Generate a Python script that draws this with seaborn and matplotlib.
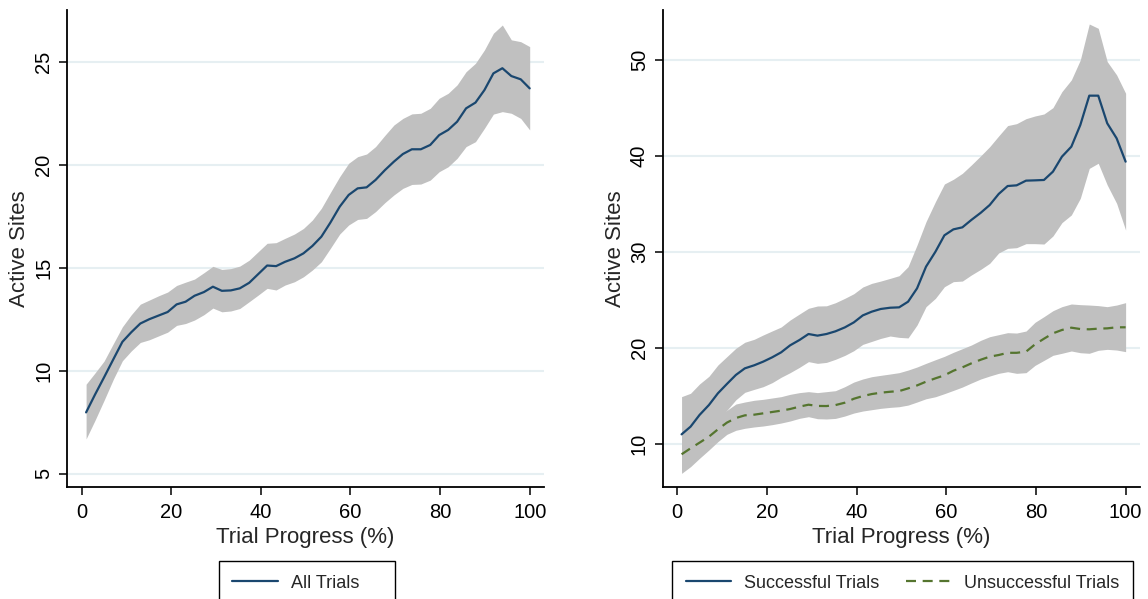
import numpy as np
import pandas as pd
import matplotlib
matplotlib.use("Agg")
import matplotlib.pyplot as plt
import seaborn as sns

# ---------------- data ----------------
progress = [1.0, 3.0, 5.0, 7.1, 9.1, 11.1, 13.1, 15.1, 17.2, 19.2,
            21.2, 23.2, 25.2, 27.3, 29.3, 31.3, 33.3, 35.3, 37.4, 39.4,
            41.4, 43.4, 45.4, 47.5, 49.5, 51.5, 53.5, 55.5, 57.6, 59.6,
            61.6, 63.6, 65.6, 67.7, 69.7, 71.7, 73.7, 75.7, 77.8, 79.8,
            81.8, 83.8, 85.8, 87.9, 89.9, 91.9, 93.9, 95.9, 98.0, 100.0]

all_mean = [7.98, 8.85, 9.68, 10.57, 11.41, 11.88, 12.30, 12.51, 12.69, 12.86,
            13.23, 13.36, 13.65, 13.83, 14.09, 13.89, 13.91, 14.01, 14.28, 14.70,
            15.12, 15.09, 15.30, 15.47, 15.71, 16.07, 16.52, 17.20, 17.98, 18.55,
            18.87, 18.92, 19.28, 19.76, 20.17, 20.54, 20.77, 20.77, 20.98, 21.46,
            21.71, 22.11, 22.76, 23.04, 23.65, 24.46, 24.71, 24.33, 24.17, 23.73]
all_upper = [9.35, 9.90, 10.47, 11.33, 12.14, 12.73, 13.24, 13.44, 13.65, 13.83,
             14.15, 14.31, 14.46, 14.77, 15.08, 14.93, 14.97, 15.09, 15.38, 15.79,
             16.20, 16.23, 16.44, 16.65, 16.92, 17.33, 17.90, 18.66, 19.44, 20.09,
             20.41, 20.54, 20.90, 21.45, 21.95, 22.27, 22.49, 22.52, 22.76, 23.25,
             23.49, 23.90, 24.54, 24.95, 25.60, 26.41, 26.81, 26.09, 26.00, 25.76]
all_lower = [6.69, 7.60, 8.56, 9.60, 10.49, 10.97, 11.38, 11.51, 11.70, 11.88,
             12.21, 12.30, 12.47, 12.73, 13.05, 12.87, 12.91, 13.03, 13.36, 13.68,
             14.01, 13.93, 14.17, 14.33, 14.57, 14.90, 15.30, 15.95, 16.65, 17.09,
             17.36, 17.41, 17.74, 18.18, 18.55, 18.87, 19.06, 19.08, 19.27, 19.68,
             19.92, 20.33, 20.90, 21.14, 21.79, 22.48, 22.60, 22.52, 22.27, 21.71]

succ_mean = [11.00, 11.80, 13.02, 14.06, 15.28, 16.25, 17.19, 17.88, 18.20, 18.58,
             19.03, 19.55, 20.28, 20.84, 21.46, 21.29, 21.46, 21.74, 22.15, 22.67,
             23.40, 23.79, 24.07, 24.20, 24.24, 24.83, 26.22, 28.48, 30.04, 31.75,
             32.37, 32.58, 33.35, 34.10, 34.91, 36.06, 36.89, 36.96, 37.45, 37.48,
             37.52, 38.39, 39.95, 40.99, 43.25, 46.31, 46.31, 43.43, 41.86, 39.43]
succ_upper = [14.93, 15.28, 16.25, 17.05, 18.23, 19.10, 19.97, 20.60, 20.91, 21.36,
              21.78, 22.19, 22.92, 23.55, 24.14, 24.38, 24.40, 24.72, 25.18, 25.66,
              26.36, 26.74, 26.98, 27.26, 27.54, 28.48, 30.74, 33.17, 35.26, 37.10,
              37.59, 38.21, 39.08, 40.04, 40.99, 42.11, 43.19, 43.39, 43.91, 44.19,
              44.40, 45.06, 46.73, 47.95, 50.03, 53.78, 53.33, 49.86, 48.47, 46.56]
succ_lower = [7.10, 8.30, 9.80, 11.07, 12.30, 13.50, 14.60, 15.38, 15.69, 15.97,
              16.39, 16.95, 17.43, 17.99, 18.58, 18.40, 18.50, 18.82, 19.23, 19.72,
              20.38, 20.69, 21.00, 21.25, 21.11, 21.05, 22.40, 24.31, 25.18, 26.39,
              26.92, 26.98, 27.61, 28.20, 28.83, 29.91, 30.39, 30.46, 30.88, 30.88,
              30.84, 31.68, 33.07, 33.87, 35.61, 38.73, 39.26, 37.00, 35.08, 32.30]

unsucc_mean = [8.92, 9.54, 10.13, 10.76, 11.52, 12.22, 12.70, 12.98, 13.05, 13.19,
               13.33, 13.47, 13.64, 13.89, 14.09, 13.96, 13.95, 14.05, 14.30, 14.71,
               14.99, 15.20, 15.34, 15.44, 15.51, 15.79, 16.10, 16.49, 16.84, 17.15,
               17.63, 17.98, 18.40, 18.78, 19.10, 19.27, 19.50, 19.50, 19.62, 20.38,
               20.97, 21.53, 21.88, 22.12, 21.98, 21.95, 22.02, 22.05, 22.16, 22.16]
unsucc_upper = [10.90, 11.45, 11.76, 12.15, 12.80, 13.50, 14.16, 14.37, 14.55, 14.65,
                14.79, 14.93, 15.17, 15.35, 15.45, 15.35, 15.45, 15.55, 15.97, 16.45,
                16.77, 17.01, 17.15, 17.29, 17.43, 17.70, 18.02, 18.40, 18.78, 19.13,
                19.55, 19.93, 20.31, 20.80, 21.18, 21.39, 21.60, 21.56, 21.77, 22.68,
                23.27, 23.89, 24.31, 24.59, 24.52, 24.48, 24.42, 24.31, 24.48, 24.73]
unsucc_lower = [6.93, 7.63, 8.50, 9.37, 10.24, 11.00, 11.42, 11.63, 11.77, 11.87,
                12.01, 12.18, 12.39, 12.67, 12.84, 12.63, 12.60, 12.66, 12.91, 13.22,
                13.43, 13.57, 13.71, 13.81, 13.88, 14.05, 14.37, 14.71, 14.92, 15.24,
                15.58, 15.93, 16.35, 16.77, 17.08, 17.36, 17.53, 17.36, 17.43, 18.19,
                18.71, 19.24, 19.45, 19.69, 19.51, 19.45, 19.76, 19.86, 19.79, 19.62]

left_yticks = [5, 10, 15, 20, 25]
right_yticks = [10, 20, 30, 40, 50]
xticks = [0, 20, 40, 60, 80, 100]
x_label = "Trial Progress (%)"
y_label = "Active Sites"
label_all = "All Trials"
label_succ = "Successful Trials"
label_unsucc = "Unsuccessful Trials"

# ---------------- style ----------------
sns.set_style("white")
plt.rcParams['font.family'] = ['Liberation Sans', 'DejaVu Sans']

NAVY = "#1a476f"
GREEN = "#55752f"
BAND = "#c0c0c0"
GRID = "#e6eff2"

fig = plt.figure(figsize=(11.48, 5.99), dpi=100)
ax1 = fig.add_axes([0.0586, 0.1865, 0.4153, 0.7968])
ax2 = fig.add_axes([0.5773, 0.1865, 0.4157, 0.7968])

df_all = pd.DataFrame({"progress": progress, "sites": all_mean, "group": label_all})
df_split = pd.concat([
    pd.DataFrame({"progress": progress, "sites": succ_mean, "group": label_succ}),
    pd.DataFrame({"progress": progress, "sites": unsucc_mean, "group": label_unsucc}),
], ignore_index=True)

# bands
ax1.fill_between(progress, all_lower, all_upper, color=BAND, lw=0, zorder=1)
ax2.fill_between(progress, succ_lower, succ_upper, color=BAND, lw=0, zorder=1)
ax2.fill_between(progress, unsucc_lower, unsucc_upper, color=BAND, lw=0, zorder=1)

# lines
sns.lineplot(data=df_all, x="progress", y="sites", color=NAVY, lw=1.6,
             estimator=None, errorbar=None, legend=False, ax=ax1, zorder=3)
sns.lineplot(data=df_split, x="progress", y="sites", hue="group", style="group",
             palette={label_succ: NAVY, label_unsucc: GREEN},
             dashes={label_succ: "", label_unsucc: (4.5, 3)},
             lw=1.6, estimator=None, errorbar=None, legend=False, ax=ax2, zorder=3)

def style_axis(ax, yticks, ylim):
    ax.set_xlim(-3.2, 103.2)
    ax.set_ylim(*ylim)
    ax.set_xticks(xticks)
    ax.set_yticks(yticks)
    ax.set_axisbelow(True)
    ax.grid(axis="y", color=GRID, lw=1.5)
    ax.grid(axis="x", visible=False)
    for s in ["top", "right"]:
        ax.spines[s].set_visible(False)
    for s in ["left", "bottom"]:
        ax.spines[s].set_color("black")
        ax.spines[s].set_linewidth(1.3)
    ax.tick_params(axis="both", which="major", length=6, width=1.1, color="black",
                   labelsize=14.5, labelcolor="black", left=True, bottom=True)
    ax.tick_params(axis="x", pad=5)
    ax.tick_params(axis="y", pad=4)
    for lab in ax.get_yticklabels():
        lab.set_rotation(90)
        lab.set_verticalalignment("center")
    ax.set_xlabel(x_label, fontsize=16, labelpad=4)
    ax.set_ylabel(y_label, fontsize=16, labelpad=3)

style_axis(ax1, left_yticks, (4.34, 27.54))
style_axis(ax2, right_yticks, (5.48, 55.24))

leg_kw = dict(loc="upper left", mode="expand", borderaxespad=0, borderpad=0.75,
              frameon=True, fancybox=False, edgecolor="black", framealpha=1,
              fontsize=13, handlelength=2.5, handletextpad=0.75)

h1 = ax1.get_lines()
leg1 = ax1.legend([h1[0]], [label_all], bbox_to_anchor=(0.318, -0.1544, 0.370, 0), **leg_kw)
leg1.get_frame().set_linewidth(1.0)

h2 = ax2.get_lines()
leg2 = ax2.legend(h2[:2], [label_succ, label_unsucc], ncol=2, columnspacing=1.5,
                  bbox_to_anchor=(0.0195, -0.1544, 0.966, 0), **leg_kw)
leg2.get_frame().set_linewidth(1.0)

fig.savefig("out.png", dpi=100)
